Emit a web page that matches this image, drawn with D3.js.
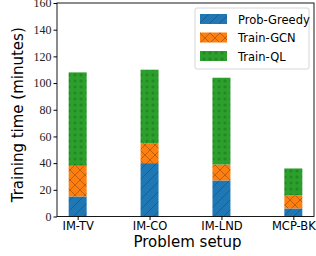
<!DOCTYPE html>
<html>
<head>
<meta charset="utf-8">
<script src="https://cdn.jsdelivr.net/npm/d3@7"></script>
<style>
  body { margin: 0; background: #fff; }
  svg { display: block; }
</style>
</head>
<body>
<svg id="chart" width="316" height="256"></svg>
<script>
// chart data
const categories = ["IM-TV", "IM-CO", "IM-LND", "MCP-BK"];
const seriesNames = ["Prob-Greedy", "Train-GCN", "Train-QL"];
const probGreedy = [15, 40, 27, 6];
const trainGCN = [23, 15, 12, 10];
const trainQL = [70, 55, 65, 20];
const yTicks = [0, 20, 40, 60, 80, 100, 120, 140, 160];

const colors = ["#1f77b4", "#ff7f0e", "#2ca02c"];
const hatchIds = ["hatch-slash", "hatch-cross", "hatch-dots"];

const svg = d3.select("#chart");
const margin = { left: 57, right: 2, top: 3, bottom: 39.5 };
const W = 316, H = 256;

// x in category units, like matplotlib with bar width 0.25
const barW = 0.25;
const x = d3.scaleLinear()
    .domain([-0.2875, categories.length - 1 + 0.2875])
    .range([margin.left, W - margin.right]);
const y = d3.scaleLinear().domain([0, 160]).range([H - margin.bottom, margin.top]);

// hatch patterns
const defs = svg.append("defs");
const p0 = defs.append("pattern").attr("id", hatchIds[0])
    .attr("patternUnits", "userSpaceOnUse").attr("width", 10).attr("height", 10);
p0.append("rect").attr("width", 10).attr("height", 10).attr("fill", colors[0]);
p0.append("path").attr("d", "M-1,11 L11,-1 M-6,6 L6,-6 M4,16 L16,4")
    .attr("stroke", "#1a4f78").attr("stroke-width", 0.8).attr("opacity", 0.8);

const p1 = defs.append("pattern").attr("id", hatchIds[1])
    .attr("patternUnits", "userSpaceOnUse").attr("width", 10).attr("height", 10);
p1.append("rect").attr("width", 10).attr("height", 10).attr("fill", colors[1]);
p1.append("path").attr("d", "M0,0 L10,10 M10,0 L0,10")
    .attr("stroke", "#8a4a10").attr("stroke-width", 0.8).attr("opacity", 0.75);

const p2 = defs.append("pattern").attr("id", hatchIds[2])
    .attr("patternUnits", "userSpaceOnUse").attr("width", 6).attr("height", 6);
p2.append("rect").attr("width", 6).attr("height", 6).attr("fill", colors[2]);
p2.append("circle").attr("cx", 3).attr("cy", 3).attr("r", 1.1)
    .attr("fill", "none").attr("stroke", "#1c6a1c").attr("stroke-width", 0.6);

// stacks
const rows = categories.map((c, i) => ({
    cat: c, idx: i,
    "Prob-Greedy": probGreedy[i], "Train-GCN": trainGCN[i], "Train-QL": trainQL[i]
}));
const stacked = d3.stack().keys(seriesNames)(rows);

svg.append("g").selectAll("g")
    .data(stacked)
    .join("g")
    .attr("fill", (d, i) => `url(#${hatchIds[i]})`)
    .selectAll("rect")
    .data(d => d)
    .join("rect")
    .attr("x", d => x(d.data.idx - barW / 2))
    .attr("width", d => x(barW) - x(0))
    .attr("y", d => y(d[1]))
    .attr("height", d => y(d[0]) - y(d[1]));

// frame
svg.append("rect")
    .attr("x", margin.left).attr("y", margin.top)
    .attr("width", W - margin.right - margin.left)
    .attr("height", H - margin.bottom - margin.top)
    .attr("fill", "none").attr("stroke", "#000").attr("stroke-width", 0.9);

// y axis
const yAxis = svg.append("g")
    .attr("transform", `translate(${margin.left},0)`)
    .call(d3.axisLeft(y).tickValues(yTicks).tickSize(3.5).tickPadding(2));
yAxis.select(".domain").remove();
yAxis.selectAll("text")
    .attr("font-family", "'Liberation Serif', 'DejaVu Serif', serif")
    .attr("font-size", 12).attr("fill", "#222");

// x axis
const xAxis = svg.append("g")
    .attr("transform", `translate(0,${H - margin.bottom})`)
    .call(d3.axisBottom(x).tickValues(categories.map((c, i) => i))
        .tickFormat(i => categories[i]).tickSize(3.5).tickPadding(2));
xAxis.select(".domain").remove();
xAxis.selectAll("text")
    .attr("font-family", "'DejaVu Sans', sans-serif")
    .attr("font-size", 11.5).attr("fill", "#000");

// axis labels
svg.append("text")
    .attr("transform", `translate(23,${(margin.top + H - margin.bottom) / 2 + 5}) rotate(-90)`)
    .attr("text-anchor", "middle")
    .attr("font-family", "'DejaVu Sans', sans-serif")
    .attr("font-size", 15)
    .text("Training time (minutes)");

svg.append("text")
    .attr("x", (margin.left + W - margin.right) / 2 + 2)
    .attr("y", 247)
    .attr("text-anchor", "middle")
    .attr("font-family", "'DejaVu Sans', sans-serif")
    .attr("font-size", 15)
    .text("Problem setup");

// legend
const lg = svg.append("g").attr("transform", "translate(195,8)");
lg.append("rect").attr("width", 114).attr("height", 61).attr("rx", 2)
    .attr("fill", "#fff").attr("fill-opacity", 0.8)
    .attr("stroke", "#ccc").attr("stroke-width", 0.8);
seriesNames.forEach((name, i) => {
    const yy = 6 + i * 18.5;
    lg.append("rect").attr("x", 5).attr("y", yy).attr("width", 27).attr("height", 10)
        .attr("fill", `url(#${hatchIds[i]})`);
    lg.append("text").attr("x", 43).attr("y", yy + 9.5)
        .attr("font-family", "'DejaVu Sans', sans-serif")
        .attr("font-size", 11.5)
        .text(name);
});
</script>
</body>
</html>
